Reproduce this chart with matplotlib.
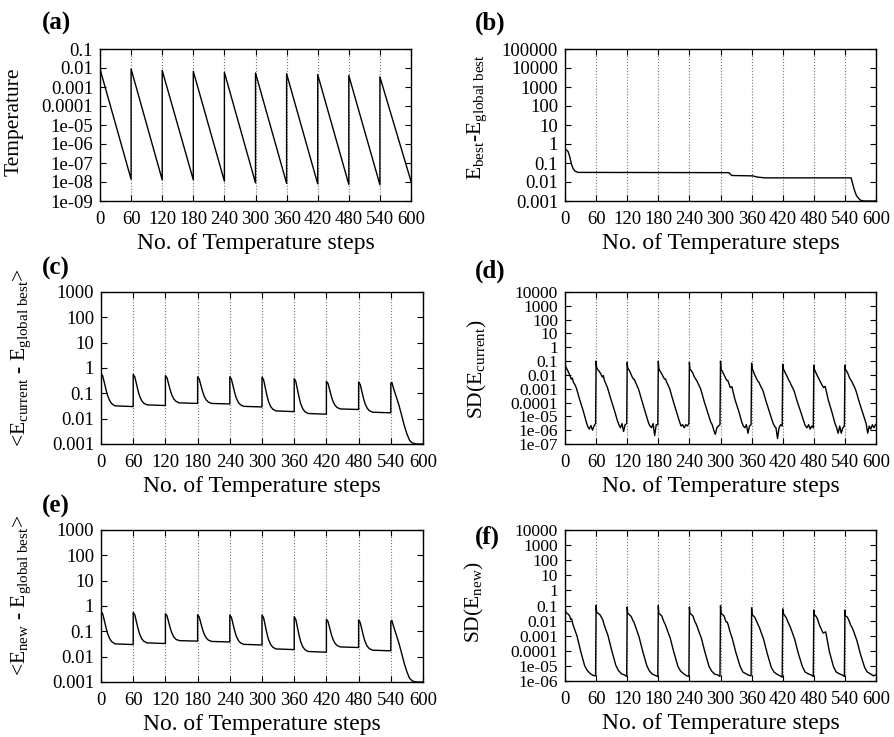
import numpy as np
import matplotlib
matplotlib.use("Agg")
import matplotlib.pyplot as plt
from matplotlib.ticker import FixedLocator, FuncFormatter, NullLocator

plt.rcParams.update({
    "font.family": "Liberation Serif",
    "mathtext.fontset": "custom",
    "mathtext.rm": "Liberation Serif",
    "mathtext.it": "Liberation Serif:italic",
    "mathtext.bf": "Liberation Serif:bold",
    "axes.linewidth": 1.0,
})

# ---- data -------------------------------------------------------------
x_ticks = [0, 60, 120, 180, 240, 300, 360, 420, 480, 540, 600]
period = 60

# (a) temperature schedule: value at start and end of every restart cycle
temp_peaks = [0.0089, 0.0089, 0.0075, 0.0067, 0.0059, 0.0055, 0.005, 0.0045, 0.004, 0.0034]
temp_troughs = [1.4e-8, 1.3e-8, 1.3e-8, 1.1e-8, 9e-9, 8.5e-9, 8e-9, 7.5e-9, 7.2e-9, 1.1e-8]

# (b) best energy found so far minus global best
best_steps = [0, 3, 6, 9, 12, 15, 19, 25, 316, 319, 322, 362, 372, 386,
              552, 555, 558, 562, 566, 570, 576, 600]
best_vals = [0.5, 0.48, 0.4, 0.22, 0.1, 0.055, 0.038, 0.032, 0.031, 0.026, 0.022, 0.021,
             0.018, 0.0165, 0.0165, 0.008, 0.004, 0.002, 0.0014, 0.0011, 0.001, 0.001]

# (c) <E_current - E_global best>, cycles 1-9 sampled at these offsets
mean_offsets = [0, 3, 6, 9, 12, 16, 20, 26, 60]
cur_cycles = [
    [0.60, 0.50, 0.28, 0.15, 0.085, 0.052, 0.039, 0.032, 0.030],
    [0.56, 0.446, 0.239, 0.128, 0.0773, 0.0505, 0.0403, 0.035, 0.033],
    [0.50, 0.408, 0.234, 0.135, 0.0853, 0.0585, 0.0478, 0.042, 0.040],
    [0.45, 0.369, 0.214, 0.124, 0.0798, 0.0551, 0.0452, 0.0399, 0.038],
    [0.45, 0.361, 0.198, 0.108, 0.0659, 0.0437, 0.0351, 0.0306, 0.029],
    [0.44, 0.342, 0.171, 0.0859, 0.0488, 0.0305, 0.0237, 0.0202, 0.019],
    [0.38, 0.294, 0.144, 0.0708, 0.0396, 0.0244, 0.0188, 0.016, 0.015],
    [0.30, 0.244, 0.139, 0.0789, 0.0497, 0.0338, 0.0275, 0.0242, 0.023],
    [0.28, 0.224, 0.121, 0.0652, 0.0394, 0.0259, 0.0207, 0.018, 0.017],
]
last_steps = [540, 542, 545, 550, 555, 560, 565, 570, 575, 580, 588, 600]
cur_last = [0.25, 0.27, 0.16, 0.075, 0.035, 0.014, 0.0055, 0.0025, 0.0014, 0.0011, 0.001, 0.001]

# (e) <E_new - E_global best>
new_cycles = [
    [0.60, 0.50, 0.28, 0.15, 0.085, 0.052, 0.039, 0.032, 0.030],
    [0.56, 0.446, 0.239, 0.128, 0.0773, 0.0505, 0.0403, 0.035, 0.033],
    [0.50, 0.408, 0.234, 0.135, 0.0853, 0.0585, 0.0478, 0.043, 0.041],
    [0.45, 0.369, 0.214, 0.124, 0.0798, 0.0551, 0.0452, 0.0399, 0.038],
    [0.44, 0.355, 0.196, 0.107, 0.0655, 0.0435, 0.035, 0.0306, 0.029],
    [0.44, 0.342, 0.171, 0.0859, 0.0488, 0.0305, 0.0237, 0.0202, 0.019],
    [0.38, 0.294, 0.144, 0.0708, 0.0396, 0.0244, 0.0188, 0.016, 0.015],
    [0.30, 0.244, 0.139, 0.0789, 0.0497, 0.0338, 0.0275, 0.0242, 0.023],
    [0.28, 0.224, 0.121, 0.0652, 0.0394, 0.0259, 0.0207, 0.018, 0.017],
]
new_last = [0.25, 0.27, 0.16, 0.075, 0.035, 0.014, 0.0055, 0.0025, 0.0014, 0.0011, 0.001, 0.001]

# (d) SD(E_current) per cycle
sd_cur_offsets = [0, 1, 3, 6, 9, 12, 14, 16, 19, 22, 28, 35, 41, 44, 47, 50, 53, 56, 59]
sd_cur_cycles = [
    [1.0, 0.04, 0.03, 0.018, 0.01, 0.005, 0.006, 0.003, 0.002, 0.0011, 1.8e-4, 2.6e-5, 4e-6, 1.8e-6, 1.2e-6, 2.2e-6, 1e-6, 2e-6, 3e-6],
    [0.1, 0.035, 0.025, 0.018, 0.012, 0.007, 0.009, 0.004, 0.0022, 0.0012, 2e-4, 3e-5, 5e-6, 2.5e-6, 1.5e-6, 3e-6, 8e-7, 2.5e-6, 3e-6],
    [0.08, 0.03, 0.025, 0.015, 0.008, 0.005, 0.0045, 0.003, 0.0016, 9e-4, 1.5e-4, 2e-5, 3.5e-6, 2e-6, 1.5e-6, 3e-6, 4e-7, 2.5e-6, 2.5e-6],
    [0.1, 0.03, 0.02, 0.013, 0.008, 0.005, 0.005, 0.003, 0.0018, 0.001, 1.6e-4, 2.2e-5, 4e-6, 2e-6, 2.5e-6, 1.5e-6, 2.5e-6, 2e-6, 3e-6],
    [0.08, 0.025, 0.022, 0.015, 0.008, 0.005, 0.004, 0.0028, 0.0016, 9e-4, 1.4e-4, 2e-5, 4e-6, 2.5e-6, 1e-6, 5e-7, 1.5e-6, 2e-6, 2.5e-6],
    [0.1, 0.025, 0.02, 0.012, 0.007, 0.004, 0.004, 0.0025, 0.0012, 0.0014, 1.6e-4, 2.5e-5, 4e-6, 2e-6, 1.5e-6, 2.5e-6, 6e-7, 2e-6, 2.5e-6],
    [0.07, 0.03, 0.02, 0.01, 0.006, 0.0035, 0.003, 0.002, 0.0012, 7e-4, 1.2e-4, 1.8e-5, 3.5e-6, 2e-6, 1.5e-6, 2.5e-7, 1.5e-6, 2.5e-6, 2e-6],
    [0.06, 0.03, 0.02, 0.012, 0.007, 0.004, 0.003, 0.002, 0.0012, 7e-4, 1.2e-4, 2e-5, 4e-6, 2e-6, 1.5e-6, 2.5e-6, 1.2e-6, 2e-6, 1.5e-6],
    [0.05, 0.025, 0.018, 0.01, 0.006, 0.0035, 0.0025, 0.0018, 0.0012, 0.0015, 1.5e-4, 2e-5, 3e-6, 1.5e-6, 6e-7, 2e-6, 6e-7, 1.5e-6, 2e-6],
    [0.05, 0.025, 0.02, 0.012, 0.006, 0.004, 0.003, 0.002, 0.0012, 6e-4, 1e-4, 1.5e-5, 3e-6, 6e-7, 2e-6, 1.2e-6, 2.5e-6, 1.5e-6, 2.5e-6],
]

# (f) SD(E_new) per cycle
sd_new_offsets = [0, 1, 4, 7, 9, 11, 13, 15, 18, 23, 30, 38, 43, 49, 55, 59]
sd_new_cycles = [
    [0.3, 0.04, 0.03, 0.025, 0.02, 0.012, 0.013, 0.006, 0.003, 0.001, 1e-4, 1e-5, 5e-6, 3e-6, 2.3e-6, 2.2e-6],
    [0.1, 0.035, 0.03, 0.025, 0.02, 0.015, 0.011, 0.006, 0.003, 0.001, 1.1e-4, 1.1e-5, 5e-6, 3e-6, 2.5e-6, 2e-6],
    [0.08, 0.03, 0.025, 0.02, 0.015, 0.01, 0.008, 0.005, 0.0025, 8e-4, 9e-5, 1e-5, 4.5e-6, 2.8e-6, 2.3e-6, 2e-6],
    [0.1, 0.03, 0.025, 0.02, 0.012, 0.008, 0.006, 0.004, 0.002, 7e-4, 8e-5, 9e-6, 4.5e-6, 3e-6, 2.2e-6, 2e-6],
    [0.08, 0.03, 0.025, 0.02, 0.012, 0.008, 0.006, 0.004, 0.002, 7e-4, 8e-5, 9e-6, 4.5e-6, 2.8e-6, 2.5e-6, 2e-6],
    [0.1, 0.03, 0.025, 0.02, 0.012, 0.008, 0.008, 0.005, 0.002, 6e-4, 7e-5, 9e-6, 4e-6, 3e-6, 2.4e-6, 2.2e-6],
    [0.07, 0.025, 0.02, 0.015, 0.01, 0.007, 0.005, 0.0035, 0.0018, 6e-4, 7e-5, 8e-6, 4e-6, 2.8e-6, 2.2e-6, 1.8e-6],
    [0.06, 0.03, 0.022, 0.015, 0.01, 0.007, 0.005, 0.0035, 0.0018, 6e-4, 7e-5, 9e-6, 4e-6, 3e-6, 2.5e-6, 2e-6],
    [0.05, 0.025, 0.02, 0.013, 0.008, 0.005, 0.0035, 0.0025, 0.0015, 0.0018, 9e-5, 9e-6, 4e-6, 3e-6, 2.5e-6, 2e-6],
    [0.05, 0.02, 0.018, 0.012, 0.008, 0.005, 0.004, 0.0028, 0.0015, 5e-4, 6e-5, 8e-6, 4e-6, 3e-6, 2.2e-6, 2.5e-6],
]


def stitch(offsets, cycles):
    xs, ys = [], []
    for k, vals in enumerate(cycles):
        xs.extend(period * k + o for o in offsets)
        ys.extend(vals)
    return np.array(xs, dtype=float), np.array(ys)


def fmt(v, pos):
    return "%g" % v


def style(ax, ylim, yticks, ylabel, label_x, label_y, ytick_size=13.5):
    ax.set_yscale("log")
    ax.set_xlim(0, 600)
    ax.set_ylim(*ylim)
    ax.xaxis.set_major_locator(FixedLocator(x_ticks))
    ax.yaxis.set_major_locator(FixedLocator(yticks))
    ax.yaxis.set_minor_locator(NullLocator())
    ax.yaxis.set_major_formatter(FuncFormatter(fmt))
    ax.tick_params(direction="in", top=True, right=True, labelsize=13.5,
                   length=4, width=0.8)
    ax.tick_params(axis="x", pad=7)
    ax.tick_params(axis="y", pad=5, labelsize=ytick_size)
    ax.grid(True, axis="x", color="#777777", linestyle=":", linewidth=0.8)
    ax.set_xlabel("No. of Temperature steps", fontsize=17, labelpad=4)
    ax.set_ylabel(ylabel, fontsize=15.5)
    ax.yaxis.set_label_coords(label_x, label_y)


fig = plt.figure(figsize=(8.94, 7.37), dpi=100)

W, H = 894.0, 737.0


def axes_px(left, top, right, bottom):
    return fig.add_axes([left / W, 1 - bottom / H, (right - left) / W, (bottom - top) / H])


line_kw = dict(color="black", linewidth=1.0)

# (a) temperature
ax = axes_px(100, 49, 411, 201)
ta_x, ta_y = [], []
for k in range(len(temp_peaks)):
    ta_x += [period * k, period * (k + 1)]
    ta_y += [temp_peaks[k], temp_troughs[k]]
ax.plot(ta_x, ta_y, **line_kw)
style(ax, (1e-9, 0.1), [10.0 ** e for e in range(-9, 0)], "Temperature", -0.245, 0.52)

# (b) best energy
ax = axes_px(565, 49, 876, 201)
ax.plot(best_steps, best_vals, **line_kw)
style(ax, (1e-3, 1e5), [10.0 ** e for e in range(-3, 6)],
      r"E$_\mathrm{best}$-E$_\mathrm{global\ best}$", -0.245, 0.55)

# (c) mean current energy gap
ax = axes_px(101, 292, 423, 444)
cx, cy = stitch(mean_offsets, cur_cycles)
ax.plot(np.concatenate([cx, last_steps]), np.concatenate([cy, cur_last]), **line_kw)
style(ax, (1e-3, 1e3), [10.0 ** e for e in range(-3, 4)],
      r"<E$_\mathrm{current}$ - E$_\mathrm{global\ best}$>", -0.21, 0.57)

# (d) SD of current energy
ax = axes_px(565, 292, 876, 444)
dx, dy = stitch(sd_cur_offsets, sd_cur_cycles)
ax.plot(dx, dy, **line_kw)
style(ax, (1e-7, 1e4), [10.0 ** e for e in range(-7, 5)],
      r"SD(E$_\mathrm{current}$)", -0.245, 0.49, ytick_size=12.5)

# (e) mean new energy gap
ax = axes_px(101, 530, 423, 682)
ex, ey = stitch(mean_offsets, new_cycles)
ax.plot(np.concatenate([ex, last_steps]), np.concatenate([ey, new_last]), **line_kw)
style(ax, (1e-3, 1e3), [10.0 ** e for e in range(-3, 4)],
      r"<E$_\mathrm{new}$ - E$_\mathrm{global\ best}$>", -0.21, 0.57)

# (f) SD of new energy
ax = axes_px(565, 530, 876, 681)
fx, fy = stitch(sd_new_offsets, sd_new_cycles)
ax.plot(fx, fy, **line_kw)
style(ax, (1e-6, 1e4), [10.0 ** e for e in range(-6, 5)],
      r"SD(E$_\mathrm{new}$)", -0.255, 0.52, ytick_size=12.5)

# panel letters
for letter, px, py in [("(a)", 42, 12), ("(b)", 475, 12), ("(c)", 42, 257),
                       ("(d)", 475, 260), ("(e)", 42, 495), ("(f)", 475, 526)]:
    fig.text(px / W, 1 - py / H, letter, fontsize=18, fontweight="bold",
             ha="left", va="top")

fig.savefig("out.png", dpi=100)
